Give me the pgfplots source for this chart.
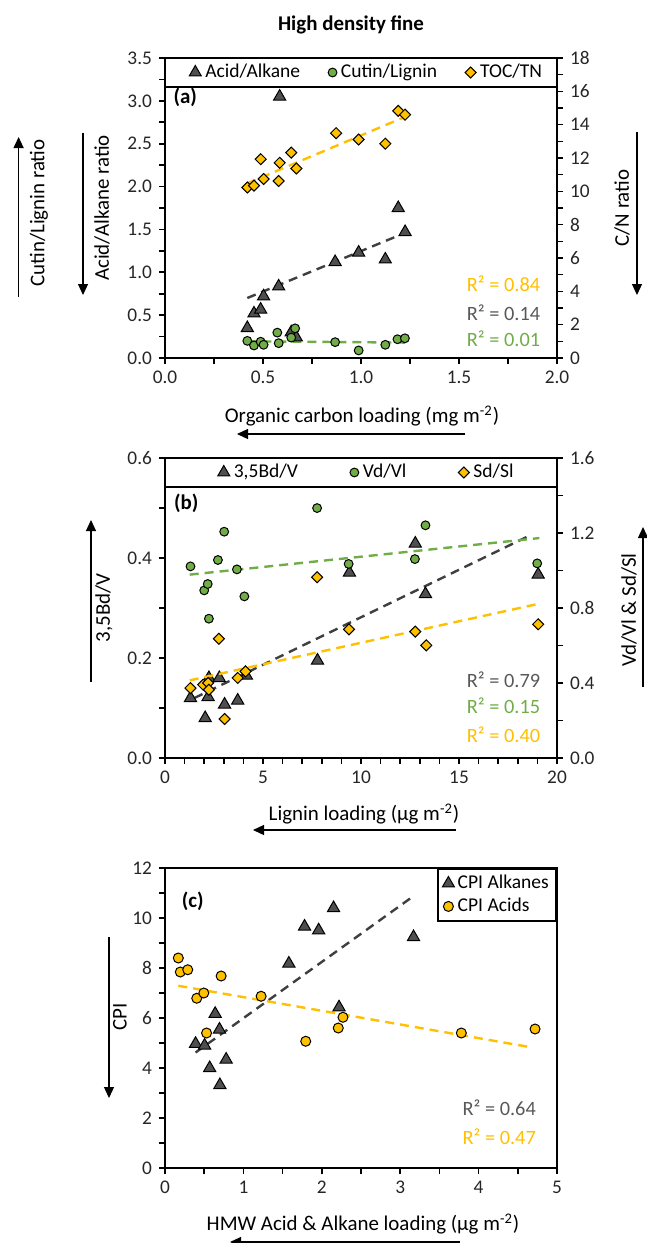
\documentclass[border=0pt]{standalone}
\usepackage{fontspec}
\setmainfont{Carlito}
\usepackage{pgfplots}
\pgfplotsset{compat=1.18}
\usetikzlibrary{arrows.meta}

\definecolor{trifill}{HTML}{4F4F4F}
\definecolor{grn}{HTML}{70AD47}
\definecolor{gld}{HTML}{FFC000}
\definecolor{trendgray}{HTML}{3F3F3F}
\definecolor{rgray}{HTML}{595959}

\pgfplotsset{
  panel/.style={scale only axis, width=196bp, height=150bp, anchor=south west, clip=false,
    tick align=outside, major tick length=3bp, minor tick length=3bp,
    every tick/.style={black, line width=0.8bp},
    axis line style={line width=1bp, -},
    ticklabel style={font=\fontsize{9.7}{11}\selectfont, text=black!85},
    /pgf/number format/assume math mode=true},
  onedec/.style={#1ticklabel style={/pgf/number format/fixed, /pgf/number format/fixed zerofill, /pgf/number format/precision=1}},
  onemark/.style={legend image code/.code={\draw[##1] plot coordinates {(0bp,0bp)};}},
  tri/.style={only marks, mark=triangle*, mark size=3.5bp, mark options={fill=trifill, draw=black, line width=0.5bp}, onemark},
  circg/.style={only marks, mark=*, mark size=2.2bp, mark options={fill=grn, draw=black, line width=0.5bp}, onemark},
  circy/.style={only marks, mark=*, mark size=2.5bp, mark options={fill=gld, draw=black, line width=0.5bp}, onemark},
  dia/.style={only marks, mark=square*, mark size=1.95bp, mark options={rotate=45, fill=gld, draw=black, line width=0.5bp}, onemark},
  trend/.style={no marks, line width=1.2bp, dash pattern=on 4.5bp off 3bp, forget plot},
  toplegend/.style={legend style={at={(0.517,0.9517)}, anchor=center, draw=none, fill=none,
    legend columns=3, font=\fontsize{9.8}{11}\selectfont,
    /tikz/every even column/.append style={column sep=#1}}},
}
\tikzset{arr/.style={line width=0.6bp, -{Triangle[length=5.5bp, width=5bp]}},
  lab/.style={font=\fontsize{10.5}{12}\selectfont},
  rsq/.style={anchor=east, font=\fontsize{10.2}{12}\selectfont},
  plab/.style={anchor=west, inner sep=0pt, font=\bfseries\fontsize{10.5}{12}\selectfont}}

\begin{document}
\begin{tikzpicture}
\path[use as bounding box] (0bp,0bp) rectangle (323.5bp,-621.5bp);

% ---------- (a) ----------
\begin{axis}[panel, at={(82.5bp,-179bp)},
  xmin=0, xmax=2, ymin=0, ymax=3.5,
  xtick={0,0.5,1,1.5,2}, minor x tick num=1,
  ytick={0,0.5,1,1.5,2,2.5,3,3.5}, minor y tick num=1,
  xtick pos=left, ytick pos=left, onedec=x, onedec=y]
\addplot[tri] coordinates {(0.42,0.35) (0.454,0.52) (0.488,0.565) (0.503,0.72) (0.58,0.835) (0.585,3.05) (0.644,0.30) (0.67,0.24) (0.868,1.12) (0.988,1.23) (1.124,1.15) (1.19,1.75) (1.225,1.47)};
\addplot[circg] coordinates {(0.42,0.20) (0.454,0.146) (0.488,0.19) (0.503,0.154) (0.573,0.296) (0.58,0.173) (0.644,0.238) (0.664,0.346) (0.868,0.185) (0.988,0.088) (1.124,0.154) (1.186,0.219) (1.224,0.23)};
\addplot[trend, trendgray] coordinates {(0.42,0.70) (1.225,1.46)};
\addplot[trend, grn] coordinates {(0.42,0.195) (1.225,0.18)};
\draw[line width=1bp] (rel axis cs:0,0.9033) -- (rel axis cs:1,0.9033);
\node[plab] at (axis cs:0.042,3.04) {(a)};
\node[rsq, text=gld] at (axis cs:1.95,0.867) {R² = 0.84};
\node[rsq, text=rgray] at (axis cs:1.95,0.525) {R² = 0.14};
\node[rsq, text=grn] at (axis cs:1.95,0.22) {R² = 0.01};
\end{axis}
\begin{axis}[panel, at={(82.5bp,-179bp)}, axis x line=none, axis y line*=right,
  xmin=0, xmax=2, ymin=0, ymax=18,
  ytick={0,2,...,18}, minor y tick num=1, toplegend=12bp]
\addlegendimage{tri}\addlegendentry{Acid/Alkane}
\addlegendimage{circg}\addlegendentry{Cutin/Lignin}
\addplot[dia] coordinates {(0.42,10.23) (0.454,10.34) (0.488,11.93) (0.503,10.74) (0.58,10.62) (0.585,11.71) (0.644,12.32) (0.67,11.37) (0.873,13.49) (0.988,13.11) (1.124,12.86) (1.19,14.83) (1.225,14.6)};
\addlegendentry{TOC/TN}
\addplot[trend, gld] coordinates {(0.42,10.48) (1.225,14.47)};
\end{axis}

% ---------- (b) ----------
\begin{axis}[panel, at={(82.5bp,-379bp)},
  xmin=0, xmax=20, ymin=0, ymax=0.6,
  xtick={0,5,10,15,20}, minor x tick num=4,
  ytick={0,0.2,0.4,0.6}, minor y tick num=1,
  xtick pos=left, ytick pos=left, onedec=y]
\addplot[tri] coordinates {(1.3,0.12) (2.05,0.08) (2.2,0.122) (2.24,0.16) (2.77,0.16) (3.04,0.107) (3.71,0.115) (4.15,0.165) (7.78,0.195) (9.41,0.371) (12.77,0.429) (13.29,0.328) (19.04,0.367)};
\addplot[trend, trendgray] coordinates {(1.5,0.12) (18.5,0.443)};
\draw[line width=1bp] (rel axis cs:0,0.9033) -- (rel axis cs:1,0.9033);
\node[plab] at (axis cs:0.44,0.51) {(b)};
\node[rsq, text=rgray] at (axis cs:19.5,0.157) {R² = 0.79};
\node[rsq, text=grn] at (axis cs:19.5,0.105) {R² = 0.15};
\node[rsq, text=gld] at (axis cs:19.5,0.047) {R² = 0.40};
\end{axis}
\begin{axis}[panel, at={(82.5bp,-379bp)}, axis x line=none, axis y line*=right,
  xmin=0, xmax=20, ymin=0, ymax=1.6,
  ytick={0,0.4,0.8,1.2,1.6}, minor y tick num=1, onedec=y, toplegend=24bp]
\addlegendimage{tri}\addlegendentry{3,5Bd/V}
\addplot[circg] coordinates {(1.3,1.022) (2.0,0.894) (2.18,0.928) (2.24,0.743) (2.7,1.056) (3.02,1.207) (3.67,1.006) (4.05,0.862) (7.76,1.333) (9.37,1.035) (12.75,1.061) (13.29,1.241) (18.99,1.038)};
\addlegendentry{Vd/Vl}
\addplot[dia] coordinates {(1.3,0.373) (1.95,0.391) (2.2,0.40) (2.24,0.364) (2.75,0.636) (3.04,0.208) (3.71,0.427) (4.11,0.462) (7.76,0.964) (9.39,0.686) (12.77,0.674) (13.33,0.601) (19.04,0.713)};
\addlegendentry{Sd/Sl}
\addplot[trend, grn] coordinates {(1.26,0.978) (19.1,1.173)};
\addplot[trend, gld] coordinates {(1.26,0.414) (19.0,0.821)};
\end{axis}

% ---------- (c) ----------
\begin{axis}[panel, at={(82.5bp,-584bp)},
  xmin=0, xmax=5, ymin=0, ymax=12,
  xtick={0,1,2,3,4,5}, minor x tick num=1,
  ytick={0,2,...,12}, minor y tick num=1,
  xtick pos=left, ytick pos=left,
  legend style={at={(1,1)}, anchor=north east, draw=black, line width=1bp, fill=white,
    font=\fontsize{9.8}{11}\selectfont, inner xsep=2bp, inner ysep=1.5bp,
    nodes={inner sep=1.6bp}}, legend cell align=left]
\addplot[tri] coordinates {(0.39,4.97) (0.505,4.9) (0.57,4.0) (0.64,6.17) (0.695,5.54) (0.70,3.32) (0.78,4.34) (1.58,8.18) (1.78,9.66) (1.96,9.51) (2.15,10.4) (2.22,6.43) (3.17,9.24)};
\addlegendentry{CPI Alkanes}
\addplot[circy] coordinates {(0.17,8.4) (0.195,7.84) (0.29,7.93) (0.405,6.79) (0.495,7.0) (0.53,5.4) (0.716,7.68) (1.226,6.87) (1.795,5.07) (2.21,5.6) (2.27,6.03) (3.78,5.40) (4.72,5.56)};
\addlegendentry{CPI Acids}
\addplot[trend, trendgray] coordinates {(0.39,4.62) (3.18,10.9)};
\addplot[trend, gld] coordinates {(0.17,7.29) (4.65,4.84)};
\node[plab] at (axis cs:0.21,10.68) {(c)};
\node[rsq, text=rgray] at (axis cs:4.82,2.42) {R² = 0.64};
\node[rsq, text=gld] at (axis cs:4.82,1.27) {R² = 0.47};
\end{axis}

% ---------- titles, axis labels, arrows ----------
\node[font=\bfseries\fontsize{10.5}{12}\selectfont] at (175.5bp,-12.5bp) {High density fine};

\node[lab] at (181bp,-208bp) {Organic carbon loading (mg m\textsuperscript{-2})};
\draw[arr] (232.5bp,-217bp) -- (118.5bp,-217bp);
\node[lab, rotate=90] at (19.5bp,-106.5bp) {Cutin/Lignin ratio};
\draw[arr] (9.3bp,-148.5bp) -- (9.3bp,-68.5bp);
\node[lab, rotate=90] at (51bp,-104bp) {Acid/Alkane ratio};
\draw[arr] (41.5bp,-66.5bp) -- (41.5bp,-147.5bp);
\node[lab, rotate=90] at (311bp,-104bp) {C/N ratio};
\draw[arr] (318.5bp,-66bp) -- (318.5bp,-147.5bp);

\node[lab] at (182bp,-407bp) {Lignin loading (μg m\textsuperscript{-2})};
\draw[arr] (228bp,-415bp) -- (126.5bp,-415bp);
\node[lab, rotate=90] at (52bp,-304bp) {3,5Bd/V};
\draw[arr] (45.5bp,-341bp) -- (45.5bp,-260bp);
\node[lab, rotate=90] at (314.5bp,-305bp) {Vd/Vl \& Sd/Sl};
\draw[arr] (321.5bp,-343.5bp) -- (321.5bp,-263.5bp);

\node[lab] at (181.5bp,-612bp) {HMW Acid \& Alkane loading (μg m\textsuperscript{-2})};
\draw[arr] (230bp,-621bp) -- (115bp,-621bp);
\node[lab, rotate=90] at (60bp,-508.5bp) {CPI};
\draw[arr] (54.5bp,-468.5bp) -- (54.5bp,-549bp);
\end{tikzpicture}
\end{document}
